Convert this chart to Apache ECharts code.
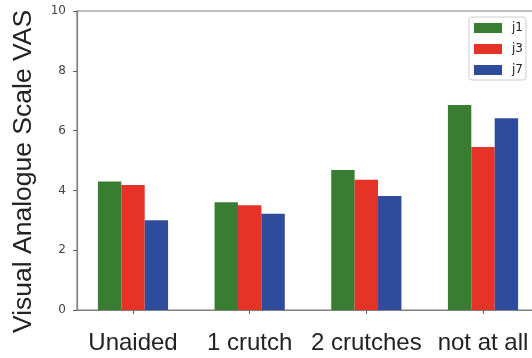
<!DOCTYPE html>
<html>
<head>
<meta charset="utf-8">
<script src="https://cdn.jsdelivr.net/npm/echarts@6/dist/echarts.min.js"></script>
<style>html,body{margin:0;padding:0;background:#fff}#c{width:532px;height:358px}</style>
</head>
<body>
<div id="c"></div>
<script>
const categories = ["Unaided", "1 crutch", "2 crutches", "not at all"];
const seriesNames = ["j1", "j3", "j7"];
const j1 = [4.3, 3.6, 4.68, 6.86];
const j3 = [4.18, 3.5, 4.36, 5.45];
const j7 = [3.0, 3.22, 3.81, 6.41];
const yTicks = [0, 2, 4, 6, 8, 10];
const colors = ["#387d32", "#e63327", "#2f4b9b"];

const values = [j1, j3, j7];
const catPos = categories.map((_, i) => i);

const chart = echarts.init(document.getElementById('c'), null, {renderer: 'canvas'});
chart.setOption({
  animation: false,
  grid: {left: 77, width: 462, top: 11, bottom: 48, show: true, outerBoundsMode: 'none', containLabel: false,
    borderColor: '#808080', borderWidth: 1.2, backgroundColor: 'transparent'},
  legend: {
    orient: 'vertical', left: 469, top: 17,
    data: seriesNames,
    icon: 'rect', itemWidth: 28, itemHeight: 10, itemGap: 9,
    padding: [5, 3, 4, 5],
    borderColor: '#cccccc', borderWidth: 1, borderRadius: 3, backgroundColor: '#fff',
    textStyle: {fontFamily: 'DejaVu Sans', fontSize: 12, color: '#222', padding: [0, 0, 0, 5]}
  },
  xAxis: {
    type: 'value', min: -0.48, max: 3.48,
    splitLine: {show: false},
    axisLine: {show: true, onZero: false, lineStyle: {color: '#808080', width: 1.2}},
    axisTick: {show: true, customValues: catPos, length: 4, lineStyle: {color: '#606060'}},
    axisLabel: {customValues: catPos, formatter: v => categories[Math.round(v)] || '',
      fontFamily: 'Liberation Sans', fontSize: 24, color: '#222', margin: 21}
  },
  yAxis: {
    type: 'value', min: 0, max: 10, interval: 2,
    name: 'Visual Analogue Scale VAS', nameLocation: 'middle', nameGap: 40, nameRotate: 90,
    nameTextStyle: {fontFamily: 'Liberation Sans', fontSize: 26.5, color: '#222', padding: [0, 22, 0, 0]},
    splitLine: {show: false},
    axisLine: {show: true, onZero: false, lineStyle: {color: '#808080', width: 1.2}},
    axisTick: {show: true, length: 4, lineStyle: {color: '#606060'}},
    axisLabel: {fontFamily: 'DejaVu Sans', fontSize: 12, color: '#444', margin: 11,
      formatter: v => yTicks.includes(v) ? String(v) : ''}
  },
  series: seriesNames.map((name, s) => ({
    name, type: 'bar', barWidth: 23.4, barGap: '0%',
    itemStyle: {color: colors[s]},
    data: values[s].map((v, i) => [catPos[i], v])
  }))
});
</script>
</body>
</html>
